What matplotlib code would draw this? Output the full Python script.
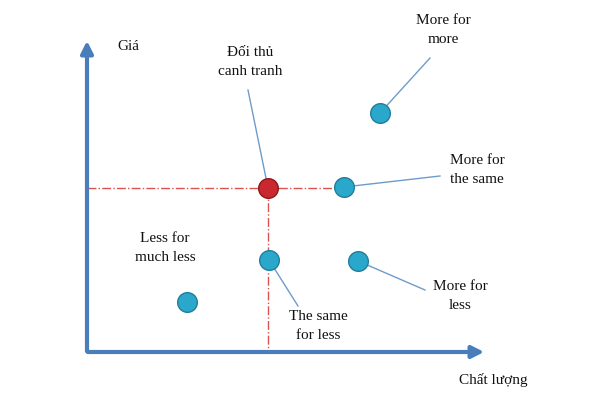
import matplotlib
matplotlib.use("Agg")
import matplotlib.pyplot as plt

names = ["Đối thủ\ncanh tranh", "More for\nmore", "More for\nthe same", "The same\nfor less", "More for\nless", "Less for\nmuch less"]
px = [268, 380, 344, 269, 358, 187]
py = [188, 113, 187, 260, 261, 302]
lx = [250, 443, 477, 318, 460, 165]
ly = [62, 30, 170, 326, 296, 248]
# leader line start points (near label)
sx = [248, 430, 440, 298, 425, None]
sy = [90, 58, 176, 306, 290, None]

fig = plt.figure(figsize=(6, 4), dpi=100)
ax = fig.add_axes([0, 0, 1, 1])
ax.set_xlim(0, 600); ax.set_ylim(400, 0); ax.axis("off")
font = dict(family="Liberation Serif", fontsize=11, color="#111111")

blue = "#4A7EBB"
ax.annotate("", xy=(87, 38), xytext=(87, 354), arrowprops=dict(arrowstyle="-|>", color=blue, lw=3, mutation_scale=18))
ax.annotate("", xy=(487, 352), xytext=(85, 352), arrowprops=dict(arrowstyle="-|>", color=blue, lw=3, mutation_scale=18))
ax.plot([87, px[2]], [py[0], py[0]], color="#D9534F", ls="-.", lw=1)
ax.plot([px[0], px[0]], [py[0], 352], color="#D9534F", ls="-.", lw=1)

for i in range(len(names)):
    if sx[i] is not None:
        ax.plot([sx[i], px[i]], [sy[i], py[i]], color="#6E9BC9", lw=1, zorder=2)
    c = "#C8282E" if i == 0 else "#2AA8CC"
    ec = "#8B1A1E" if i == 0 else "#1F7F9C"
    ax.scatter(px[i], py[i], s=200, color=c, edgecolor=ec, lw=1, zorder=3)
    ax.text(lx[i], ly[i], names[i], ha="center", va="center", linespacing=1.6, **font)

ax.text(128, 47, "Giá", ha="center", va="center", **font)
ax.text(493, 380, "Chất lượng", ha="center", va="center", **font)
fig.savefig("out.png", dpi=100)
